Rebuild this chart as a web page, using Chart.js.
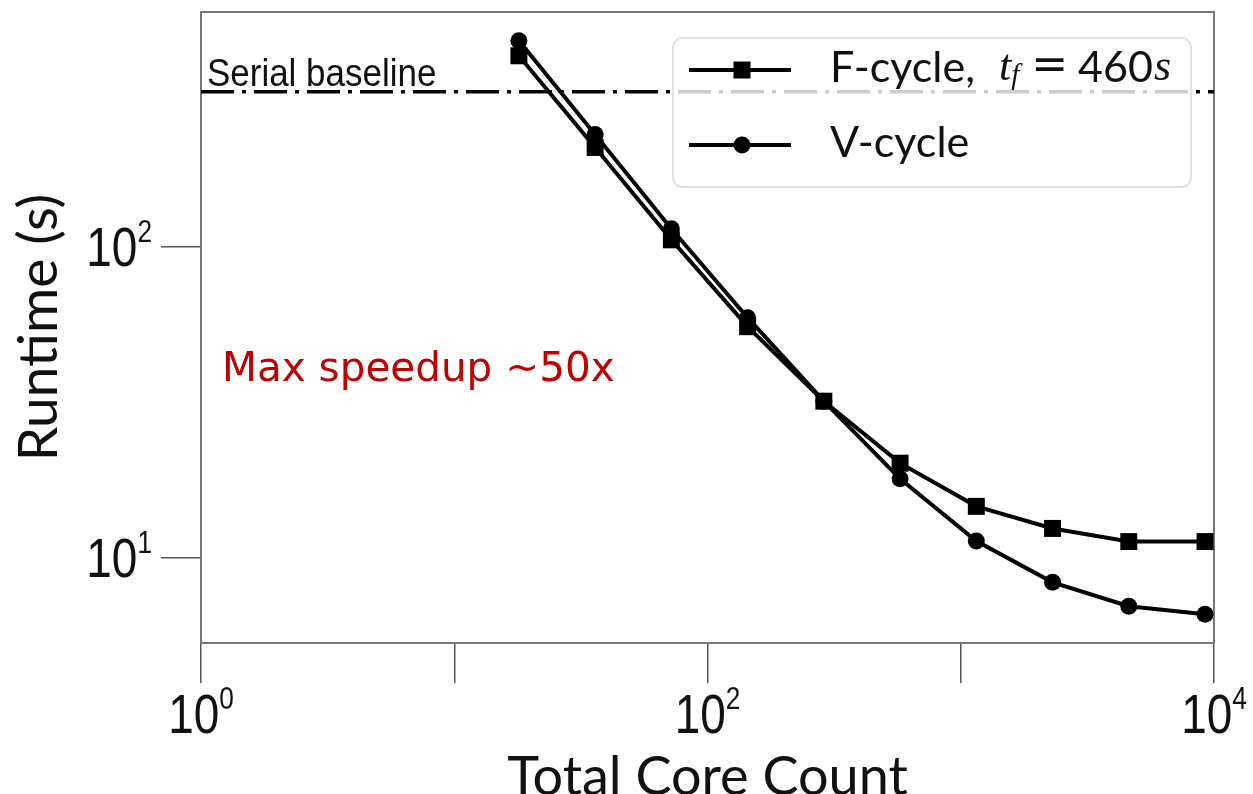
<!DOCTYPE html>
<html>
<head>
<meta charset="utf-8">
<script src="https://cdn.jsdelivr.net/npm/chart.js@4.4.1/dist/chart.umd.min.js"></script>
<style>
  html, body { margin: 0; padding: 0; background: #fff; }
  #wrap { width: 1253px; height: 794px; }
</style>
</head>
<body>
<div id="wrap"><canvas id="runtimeChart" width="1253" height="794"></canvas></div>
<script>
// values
const coreCounts = [18, 36, 72, 144, 288, 576, 1152, 2304, 4608, 9216];
const fCycleRuntime = [410, 208, 105, 55.2, 31.8, 20.1, 14.6, 12.4, 11.25, 11.25];
const vCycleRuntime = [458, 229, 114, 59.0, 31.8, 17.9, 11.3, 8.32, 6.97, 6.57];
const serialBaseline = 314;
const xTickExponents = [0, 1, 2, 3, 4];
const xLabelExponents = [0, 2, 4];
const yTickExponents = [1, 2];
const yLabelExponents = [1, 2];
const xRange = [1, 10000];
const yRange = [5.31, 567];

const TITLE_FONT = 'Lato, "Open Sans", sans-serif';
const NUM_FONT = '"Liberation Sans", Arial, sans-serif';

function pairs(xs, ys) {
  return xs.map((x, i) => ({ x: x, y: ys[i] }));
}

// "10" with a raised exponent, squeezed a little like the original font
function drawPower(ctx, exp, x, baseY, align) {
  ctx.save();
  ctx.translate(x, baseY);
  ctx.scale(0.82, 1);
  ctx.font = '56px ' + NUM_FONT;
  const wb = ctx.measureText('10').width;
  ctx.font = '32px ' + NUM_FONT;
  const we = ctx.measureText(String(exp)).width;
  const total = wb + we;
  const x0 = align === 'right' ? -total : -total / 2;
  ctx.fillStyle = '#111';
  ctx.textAlign = 'left';
  ctx.textBaseline = 'alphabetic';
  ctx.font = '56px ' + NUM_FONT;
  ctx.fillText('10', x0, 0);
  ctx.font = '32px ' + NUM_FONT;
  ctx.fillText(String(exp), x0 + wb, -24);
  ctx.restore();
}

const powerLabels = {
  id: 'powerLabels',
  afterDraw(chart) {
    const { ctx, scales } = chart;
    xLabelExponents.forEach(e => {
      const px = scales.x.getPixelForValue(Math.pow(10, e));
      drawPower(ctx, e, px, scales.x.top + 90, 'center');
    });
    yLabelExponents.forEach(e => {
      const py = scales.y.getPixelForValue(Math.pow(10, e));
      drawPower(ctx, e, scales.y.right - 49, py + 20, 'right');
    });
  }
};

// grey box round the plot area
const frame = {
  id: 'frame',
  beforeDatasetsDraw(chart) {
    const { ctx, chartArea: a } = chart;
    ctx.save();
    ctx.strokeStyle = '#777';
    ctx.lineWidth = 2;
    ctx.strokeRect(a.left, a.top, a.right - a.left, a.bottom - a.top);
    ctx.restore();
  }
};

const notes = {
  id: 'notes',
  afterDatasetsDraw(chart) {
    const { ctx, chartArea: a, scales } = chart;
    ctx.save();
    ctx.fillStyle = '#111';
    ctx.font = '38px ' + NUM_FONT;
    ctx.textBaseline = 'alphabetic';
    ctx.save();
    ctx.translate(a.left + 6, scales.y.getPixelForValue(serialBaseline) - 6);
    ctx.scale(0.92, 1);
    ctx.fillText('Serial baseline', 0, 0);
    ctx.restore();
    ctx.fillStyle = '#c00000';
    ctx.font = '40.5px "DejaVu Sans", sans-serif';
    ctx.textBaseline = 'middle';
    ctx.fillText('Max speedup ~50x', a.left + 21, a.top + 358);
    ctx.restore();
  }
};

function drawMarker(ctx, style, x, y) {
  ctx.beginPath();
  if (style === 'rect') ctx.rect(x - 8.5, y - 8.5, 17, 17);
  else ctx.arc(x, y, 8.5, 0, Math.PI * 2);
  ctx.fill();
}

// label like "F-cycle, t_f = 460s" -> upright text plus italic math bits
function drawRichLabel(ctx, label, x, y) {
  const m = label.match(/^(.*?) ([a-z])_([a-z]) = (\d+)([a-z])$/);
  const upright = '43px ' + TITLE_FONT;
  const italic = 'italic 44px "Liberation Serif", serif';
  const small = 'italic 29px "Liberation Serif", serif';
  let parts;
  if (m) {
    // [text, font, dy, gap after]
    parts = [
      [m[1], upright, 0, 24],
      [m[2], italic, 0, 0],
      [m[3], small, 8, 12],
      ['=', '44px "DejaVu Sans", sans-serif', 0, 10],
      [m[4], upright, 0, 1],
      [m[5], italic, 0, 0]
    ];
  } else {
    parts = [[label, upright, 0, 0]];
  }
  parts.forEach(p => {
    ctx.font = p[1];
    ctx.fillText(p[0], x, y + p[2]);
    x += ctx.measureText(p[0]).width + p[3];
  });
}

const legendBox = {
  id: 'legendBox',
  afterDatasetsDraw(chart) {
    const { ctx, chartArea: a } = chart;
    const left = a.right - 541, top = a.top + 26, w = 518, h = 149;
    ctx.save();
    ctx.beginPath();
    ctx.roundRect(left, top, w, h, 9);
    ctx.fillStyle = 'rgba(255,255,255,0.8)';
    ctx.fill();
    ctx.strokeStyle = '#dadada';
    ctx.lineWidth = 1.5;
    ctx.stroke();
    chart.data.datasets.filter(d => d.inLegend).forEach((ds, i) => {
      const cy = top + 32 + i * 75;
      ctx.strokeStyle = ds.borderColor;
      ctx.fillStyle = ds.borderColor;
      ctx.lineWidth = ds.borderWidth;
      ctx.beginPath();
      ctx.moveTo(left + 16, cy);
      ctx.lineTo(left + 118, cy);
      ctx.stroke();
      drawMarker(ctx, ds.pointStyle, left + 69, cy);
      ctx.fillStyle = '#111';
      ctx.textBaseline = 'middle';
      drawRichLabel(ctx, ds.label, left + 157, cy - 2);
    });
    ctx.restore();
  }
};

const ctx = document.getElementById('runtimeChart').getContext('2d');
const runtimeChart = new Chart(ctx, {
  type: 'line',
  data: {
    datasets: [
      {
        label: 'F-cycle, t_f = 460s',
        inLegend: true,
        data: pairs(coreCounts, fCycleRuntime),
        borderColor: '#000',
        backgroundColor: '#000',
        borderWidth: 4,
        pointStyle: 'rect',
        pointRadius: 12,
        pointBorderWidth: 0
      },
      {
        label: 'V-cycle',
        inLegend: true,
        data: pairs(coreCounts, vCycleRuntime),
        borderColor: '#000',
        backgroundColor: '#000',
        borderWidth: 4,
        pointStyle: 'circle',
        pointRadius: 8.5,
        pointBorderWidth: 0
      },
      {
        label: 'Serial baseline',
        data: [{ x: xRange[0], y: serialBaseline }, { x: xRange[1], y: serialBaseline }],
        borderColor: '#000',
        borderWidth: 3.5,
        borderDash: [33, 8, 4, 8],
        pointRadius: 0
      }
    ]
  },
  options: {
    responsive: false,
    animation: false,
    clip: false,
    layout: { padding: { top: 9, right: 39, left: 0, bottom: 0 } },
    scales: {
      x: {
        type: 'logarithmic',
        min: xRange[0],
        max: xRange[1],
        afterBuildTicks: s => { s.ticks = xTickExponents.map(e => ({ value: Math.pow(10, e) })); },
        afterFit: s => { s.height = 151; },
        ticks: { display: false },
        grid: { drawOnChartArea: false, drawTicks: true, tickLength: 40, color: '#555', lineWidth: 1.5 },
        border: { display: true, color: '#777', width: 2 },
        title: {
          display: true,
          text: 'Total Core Count',
          color: '#111',
          font: { family: TITLE_FONT, size: 54, lineHeight: 1 },
          padding: { top: 0, bottom: -11 }
        }
      },
      y: {
        type: 'logarithmic',
        min: yRange[0],
        max: yRange[1],
        afterBuildTicks: s => { s.ticks = yTickExponents.map(e => ({ value: Math.pow(10, e) })); },
        afterFit: s => { s.width = 201; },
        ticks: { display: false },
        grid: { drawOnChartArea: false, drawTicks: true, tickLength: 40, color: '#555', lineWidth: 1.5 },
        border: { display: true, color: '#777', width: 2 },
        title: {
          display: true,
          text: 'Runtime (s)',
          color: '#111',
          font: { family: TITLE_FONT, size: 55, lineHeight: 1 },
          padding: { top: 12, bottom: 0 }
        }
      }
    },
    plugins: {
      legend: { display: false },
      tooltip: { enabled: false }
    }
  },
  plugins: [frame, notes, legendBox, powerLabels]
});
</script>
</body>
</html>
